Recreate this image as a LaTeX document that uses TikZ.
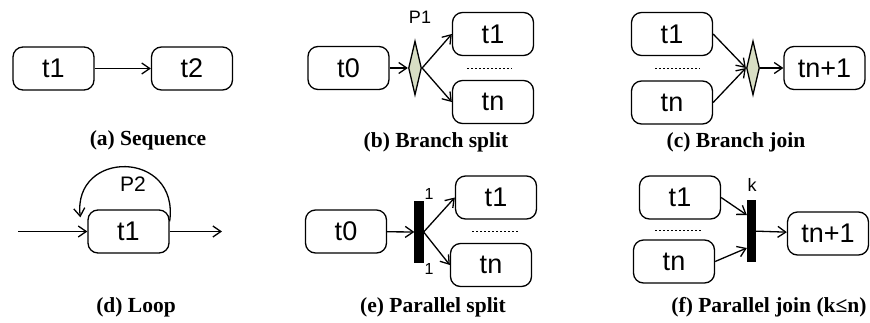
\documentclass[tikz,border=0pt]{standalone}
\usepackage{fontspec}
\setmainfont{Liberation Serif}
\newfontfamily\boxfont{Liberation Sans}
\usetikzlibrary{arrows.meta,shapes.geometric}

\definecolor{placefill}{RGB}{216,222,196}

\tikzset{
	task/.style={draw, rounded corners=10pt, minimum width=81pt, minimum height=43pt, inner sep=0pt, font=\boxfont\fontsize{27}{30}\selectfont},
	place/.style={draw, diamond, fill=placefill, minimum width=13pt, minimum height=54pt, inner sep=0pt},
	bar/.style={draw, fill=black, minimum width=8pt, minimum height=60pt, inner sep=0pt},
	arr/.style={-{Straight Barb[length=8pt,width=11pt]}},
	lbl/.style={font=\boxfont\fontsize{18}{20}\selectfont},
	caption/.style={font=\bfseries\fontsize{21.5}{24}\selectfont},
	dots/.style={dash pattern=on 1.5pt off 2.5pt, line width=0.6pt}
}

\begin{document}
\begin{tikzpicture}[x=1pt, y=-1pt, line width=1.3pt]
\useasboundingbox (0,0) rectangle (870,322);

% (a) Sequence
\node[task] (a1) at (53.5,68.5) {t1};
\node[task] (a2) at (192,68.5) {t2};
\draw[arr] (a1) -- (a2);
\node[caption] (acap) at (148,140) {(a) Sequence};

% (b) Branch split
\node[task] (b0) at (348.5,68) {t0};
\node[place] (bp) at (415,68) {};
\node[task] (b1) at (493,34) {t1};
\node[task] (bn) at (493,102) {tn};
\node[lbl] (bplbl) at (420,17) {P1};
\draw[arr] (b0) -- (bp);
\draw[arr] (bp.east) -- (b1.west);
\draw[arr] (bp.east) -- (bn.west);
\draw[dots] (467,68) -- (512,68);
\node[caption] (bcap) at (436,142) {(b) Branch split};

% (c) Branch join
\node[task] (c1) at (672,34) {t1};
\node[task] (cn) at (672,102.5) {tn};
\node[place] (cp) at (753,68) {};
\node[task] (cq) at (824.5,68) {tn+1};
\draw[arr] (c1.east) -- (cp.west);
\draw[arr] (cn.east) -- (cp.west);
\draw[arr] (cp) -- (cq);
\draw[dots] (655,68) -- (700,68);
\node[caption] (ccap) at (736,142) {(c) Branch join};

% (d) Loop
\node[task] (d1) at (128.5,231.5) {t1};
\coordinate (din) at (18,231.5);
\coordinate (dout) at (222,231.5);
\draw[arr] (din) -- (d1);
\draw[arr] (d1) -- (dout);
\draw[arr] ([yshift=-12pt]d1.north east) .. controls +(10,-72) and +(-8,-68) .. ([xshift=-7pt,yshift=-8pt]d1.north west);
\node[lbl, font=\boxfont\fontsize{21}{24}\selectfont] (dlbl) at (133,184) {P2};
\node[caption] (dcap) at (136,307) {(d) Loop};

% (e) Parallel split
\node[task] (e0) at (346,231.5) {t0};
\node[bar] (ebar) at (419,232) {};
\node[task] (e1) at (496,197.5) {t1};
\node[task] (en) at (491,265) {tn};
\node[lbl, font=\boxfont\fontsize{16}{18}\selectfont] (e1lbl) at (429,194) {1};
\node[lbl, font=\boxfont\fontsize{16}{18}\selectfont] (enlbl) at (429,269) {1};
\draw[arr] (e0) -- (ebar);
\draw[arr] (ebar.east) -- (e1.west);
\draw[arr] (ebar.east) -- (en.west);
\draw[dots] (472,231) -- (518,231);
\node[caption] (ecap) at (433,307) {(e) Parallel split};

% (f) Parallel join
\node[task] (f1) at (680,197.5) {t1};
\node[task] (fn) at (674,261.5) {tn};
\node[bar] (fbar) at (751.5,231) {};
\node[task] (fq) at (828,233.5) {tn+1};
\node[lbl] (flbl) at (752,185) {k};
\draw[arr] (f1.east) -- ([yshift=16pt]fbar.west);
\draw[arr] (fn.east) -- ([yshift=-17pt]fbar.west);
\draw[arr] (fbar) -- (fq);
\draw[dots] (655,230) -- (702,230);
\node[caption] (fcap) at (769,307) {(f) Parallel join (k≤n)};

\end{tikzpicture}
\end{document}
